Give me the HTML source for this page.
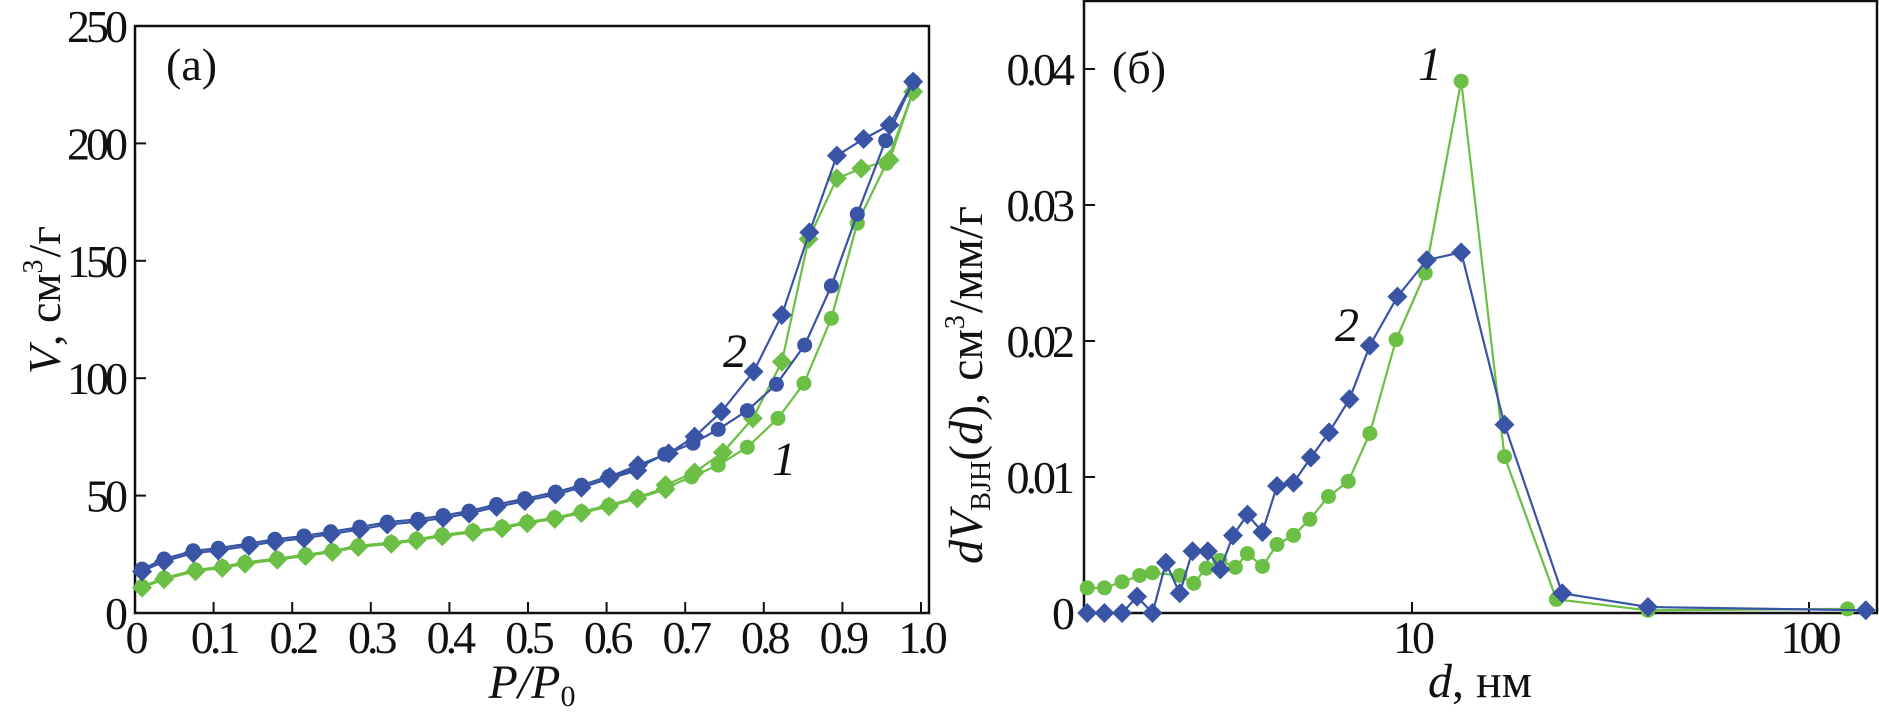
<!DOCTYPE html>
<html><head><meta charset="utf-8"><style>
html,body{margin:0;padding:0;background:#fff;}
svg{display:block;font-family:"Liberation Serif",serif;}
.tick{letter-spacing:-4px;}
</style></head><body>
<svg id="chart" width="1879" height="717" viewBox="0 0 1879 717" xmlns="http://www.w3.org/2000/svg"></svg>
<script>
// ---------- Panel (a) data ----------
const aTicksX = [0,0.1,0.2,0.3,0.4,0.5,0.6,0.7,0.8,0.9,1.0];
const aTickLabelsX = ["0","0.1","0.2","0.3","0.4","0.5","0.6","0.7","0.8","0.9","1.0"];
const aTicksY = [0,50,100,150,200,250];
const lowP2 = [0.009,0.037,0.074,0.106,0.145,0.178,0.215,0.249,0.286,0.321,0.360,0.392,0.425,0.460,0.496,0.535,0.568,0.603,0.639];
const lowV2 = [18.7,23,26.5,27.6,29.6,31.4,32.8,34.6,36.6,38.7,39.9,41.5,43.4,46.2,48.7,51.5,54.4,58.2,61.7];
const adsP2 = [0.674,0.710,0.742,0.779,0.816,0.852,0.886,0.919,0.955,0.990];
const adsV2 = [67.6,72.3,78.2,86.2,97.4,114.1,139.3,169.9,201.2,226.3];
const desP2 = [0.990,0.960,0.927,0.893,0.858,0.823,0.787,0.746,0.712,0.679,0.640,0.604];
const desV2 = [226.3,207.8,201.9,194.8,162.1,126.9,102.8,85.7,75.1,68,63,58];
const lowP1 = [0.009,0.037,0.077,0.111,0.140,0.181,0.217,0.251,0.284,0.326,0.358,0.391,0.430,0.467,0.499,0.534,0.568,0.603,0.639,0.675];
const lowV1 = [11.3,14.9,18.3,19.7,21.5,23.2,24.8,26.5,28.6,30,31.4,33.2,34.9,36.6,38.7,40.6,43.1,45.9,49.3,53.2];
const adsP1 = [0.708,0.742,0.779,0.818,0.851,0.886,0.919,0.956,0.990];
const adsV1 = [58,63,70.6,82.9,97.8,125.5,166,191.5,222];
const desP1 = [0.990,0.960,0.924,0.893,0.857,0.823,0.786,0.748,0.712,0.675];
const desV1 = [222,192.9,189.3,185.1,159.3,107,82.9,68.4,59.9,54.5];
// ---------- Panel (б) data ----------
const bTicksY = [0,0.01,0.02,0.03,0.04];
const bTickLabelsY = ["0","0.01","0.02","0.03","0.04"];
const bTicksX = [10,100];
const d1 = [1.52,1.68,1.86,2.06,2.22,2.60,2.82,3.03,3.28,3.59,3.85,4.20,4.57,5.03,5.53,6.16,6.91,7.83,9.12,10.8,13.3,17.1,23.1,39.3,125];
const v1 = [0.00185,0.00185,0.00229,0.00276,0.00296,0.00276,0.00218,0.00329,0.00387,0.00336,0.00437,0.00343,0.00504,0.00571,0.00689,0.00857,0.00968,0.0132,0.0201,0.0250,0.0391,0.0115,0.0010,0.0002,0.0003];
const d2 = [1.52,1.68,1.86,2.03,2.22,2.40,2.60,2.80,3.06,3.29,3.54,3.85,4.20,4.57,5.03,5.56,6.18,6.96,7.83,9.19,10.9,13.3,17.1,23.9,39.3,139];
const v2 = [0,0,0,0.0012,0,0.0037,0.00145,0.00454,0.00454,0.0032,0.0057,0.00723,0.00595,0.00934,0.00958,0.01143,0.01328,0.01573,0.01966,0.02326,0.02595,0.02652,0.01385,0.00145,0.00044,0.0002];

const BLUE="#3a54a5", GREEN="#6bbf45";
const svg=document.getElementById('chart');
const NS="http://www.w3.org/2000/svg";
function el(tag,attrs,parent){const e=document.createElementNS(NS,tag);for(const k in attrs)e.setAttribute(k,attrs[k]);(parent||svg).appendChild(e);return e;}

const AX0=135, AX1=929, AY0=613, AY1=26;
const ax = p => AX0 + p*786;
const ay = v => AY0 - v*2.348;
const BX0=1084, BX1=1877, BY0=613, BY1=1;
const bx = d => 1412 + (Math.log10(d)-1)*397;
const by = v => BY0 - v*13600;

function series(xs,ys,fx,fy,color,marker,name){
  const g=el('g',{});
  
  
  const pts=xs.map((x,i)=>fx(x).toFixed(1)+','+fy(ys[i]).toFixed(1)).join(' ');
  const pl=el('polyline',{points:pts,fill:'none',stroke:color,'stroke-width':2.2},g);
  
  
  xs.forEach((x,i)=>{
    const cx=fx(x), cy=fy(ys[i]);
    let m;
    if(marker==='circle'){ m=el('circle',{cx:cx,cy:cy,r:7.5,fill:color},g); }
    else { const s=10; m=el('polygon',{points:`${cx},${cy-s} ${cx+s},${cy} ${cx},${cy+s} ${cx-s},${cy}`,fill:color},g); }
    
    
  });
}
function text(x,y,str,opts,name){
  const t=el('text',Object.assign({x:x,y:y,'font-size':46,fill:'#111'},opts||{}));
  t.textContent=str;
  
  
  return t;
}

const fa=el('rect',{x:AX0,y:AY1,width:AX1-AX0,height:AY0-AY1,fill:'none',stroke:'#111','stroke-width':2.5});


aTicksX.forEach((p,i)=>{
  el('line',{x1:ax(p),x2:ax(p),y1:AY0,y2:AY0-11,stroke:'#111','stroke-width':2});
  text(ax(p),653,aTickLabelsX[i],{'text-anchor':'middle','class':'tick'},'x-tick-label-a');
});
aTicksY.forEach(v=>{
  el('line',{x1:AX0,x2:AX0+11,y1:ay(v),y2:ay(v),stroke:'#111','stroke-width':2});
  text(124,ay(v)+16,String(v),{'text-anchor':'end','class':'tick'},'y-tick-label-a');
});
const a2all_ads_x = lowP2.concat(adsP2), a2all_ads_y = lowV2.concat(adsV2);
const a2all_des_x = desP2.concat(lowP2.slice().reverse()), a2all_des_y = desV2.concat(lowV2.slice().reverse().map(v=>v-1));
const a1all_ads_x = lowP1.concat(adsP1), a1all_ads_y = lowV1.concat(adsV1);
const a1all_des_x = desP1.concat(lowP1.slice().reverse()), a1all_des_y = desV1.concat(lowV1.slice().reverse().map(v=>v-0.5));
series(a1all_des_x,a1all_des_y,ax,ay,GREEN,'diamond','sample1-desorption');
series(a1all_ads_x,a1all_ads_y,ax,ay,GREEN,'circle','sample1-adsorption');
series(a2all_des_x,a2all_des_y,ax,ay,BLUE,'diamond','sample2-desorption');
series(a2all_ads_x,a2all_ads_y,ax,ay,BLUE,'circle','sample2-adsorption');

text(166,80,"(a)",{},'panel-a-label');
text(723,367,"2",{'font-style':'italic','font-size':48},'curve-2-label-a');
text(772,475,"1",{'font-style':'italic','font-size':48},'curve-1-label-a');
const xta=text(532,698,"",{'text-anchor':'middle','font-style':'italic','font-size':48},'x-axis-title-a');
xta.innerHTML='P/P<tspan font-style="normal" font-size="30" dy="8">0</tspan>';
const yta=text(0,0,"",{'text-anchor':'middle','font-size':46,transform:'translate(60,300) rotate(-90)'},'y-axis-title-a');
yta.innerHTML='<tspan font-style="italic">V</tspan>, см<tspan font-size="28" dy="-18">3</tspan><tspan dy="18" dx="2">/г</tspan>';

const fb=el('rect',{x:BX0,y:BY1,width:BX1-BX0,height:BY0-BY1,fill:'none',stroke:'#111','stroke-width':2.5});


bTicksY.forEach((v,i)=>{
  el('line',{x1:BX0,x2:BX0+11,y1:by(v),y2:by(v),stroke:'#111','stroke-width':2});
  text(1071,by(v)+16,bTickLabelsY[i],{'text-anchor':'end','class':'tick'},'y-tick-label-b');
});
bTicksX.forEach(d=>{
  el('line',{x1:bx(d),x2:bx(d),y1:BY0,y2:BY0-11,stroke:'#111','stroke-width':2});
  text(bx(d),653,String(d),{'text-anchor':'middle','class':'tick'},'x-tick-label-b');
});
series(d1,v1,bx,by,GREEN,'circle','sample1-pore-distribution');
series(d2,v2,bx,by,BLUE,'diamond','sample2-pore-distribution');
text(1112,83,"(б)",{},'panel-b-label');
text(1418,80,"1",{'font-style':'italic','font-size':48},'curve-1-label-b');
text(1335,341,"2",{'font-style':'italic','font-size':48},'curve-2-label-b');
const xtb=text(1480,697,"",{'text-anchor':'middle','font-size':48},'x-axis-title-b');
xtb.innerHTML='<tspan font-style="italic">d</tspan>, нм';
const ytb=text(0,0,"",{'text-anchor':'middle','font-size':48,transform:'translate(982,385) rotate(-90)'},'y-axis-title-b');
ytb.innerHTML='<tspan font-style="italic">dV</tspan><tspan font-size="28" dy="8">BJH</tspan><tspan dy="-8">(</tspan><tspan font-style="italic">d</tspan>), см<tspan font-size="28" dy="-18">3</tspan><tspan dy="18" dx="2">/мм/г</tspan>';
</script>
</body></html>
